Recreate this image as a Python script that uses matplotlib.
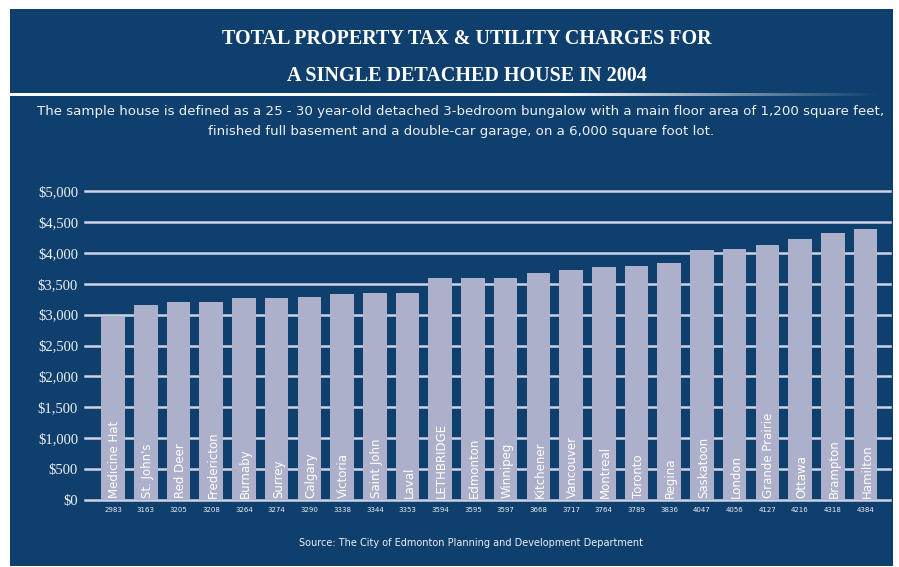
import matplotlib
matplotlib.use("Agg")
import matplotlib.pyplot as plt
from matplotlib.patches import Rectangle
import numpy as np

# data
cities = ["Medicine Hat", "St. John's", "Red Deer", "Fredericton", "Burnaby", "Surrey",
          "Calgary", "Victoria", "Saint John", "Laval", "LETHBRIDGE", "Edmonton",
          "Winnipeg", "Kitchener", "Vancouver", "Montreal", "Toronto", "Regina",
          "Saskatoon", "London", "Grande Prairie", "Ottawa", "Brampton", "Hamilton"]
charges = [2983, 3163, 3205, 3208, 3264, 3274, 3290, 3338, 3344, 3353, 3594, 3595,
           3597, 3668, 3717, 3764, 3789, 3836, 4047, 4056, 4127, 4216, 4318, 4384]
yticks = [0, 500, 1000, 1500, 2000, 2500, 3000, 3500, 4000, 4500, 5000]
ytick_labels = ["$0", "$500", "$1,000", "$1,500", "$2,000", "$2,500", "$3,000",
                "$3,500", "$4,000", "$4,500", "$5,000"]

title_lines = ["TOTAL PROPERTY TAX & UTILITY CHARGES FOR",
               "A SINGLE DETACHED HOUSE IN 2004"]
note_lines = ["The sample house is defined as a 25 - 30 year-old detached 3-bedroom bungalow "
              "with a main floor area of 1,200 square feet,",
              "finished full basement and a double-car garage, on a 6,000 square foot lot."]
source = "Source: The City of Edmonton Planning and Development Department"

NAVY = "#0f3f6d"
BAR = "#adb0cb"
GRID = "#cdd3e4"
TXT = "#eef0f6"
sans = ["DejaVu Sans"]
serif = ["Liberation Serif", "DejaVu Serif"]

W, H = 899, 567
fig = plt.figure(figsize=(W / 100, H / 100), dpi=100, facecolor="white")

def fx(px):
    return px / W

def fy(py):
    return 1 - py / H

# navy panel behind everything
bg = fig.add_axes([0, 0, 1, 1], zorder=-10)
bg.axis("off")
bg.add_patch(Rectangle((10, 9), 883, 557, facecolor=NAVY, edgecolor="none", zorder=0))

# separator line fading to the right (thin gradient strip)
fade = np.clip(1 - (np.linspace(10, 880, 400) - 560) / 320, 0, 1)
strip = np.ones((1, 400, 4))
strip[0, :, 3] = fade
bg.imshow(strip, extent=(10, 880, 96.3, 93.7), aspect="auto", interpolation="bilinear",
          zorder=2)
bg.set_xlim(0, W)
bg.set_ylim(H, 0)

# titles
for txt, y in zip(title_lines, [39, 76]):
    fig.text(fx(467), fy(y), txt, ha="center", va="center", color="white",
             family=serif, fontsize=14.5, fontweight="bold")

for txt, y in zip(note_lines, [112, 131]):
    fig.text(fx(461), fy(y), txt, ha="center", va="center", color=TXT,
             family=sans, fontsize=9.6)

ax = fig.add_axes([fx(85), fy(500), fx(890) - fx(85), (500 - 191) / H])
ax.set_facecolor("none")
x = np.arange(len(cities))
for yv in yticks:
    ax.axhline(yv, color=GRID, lw=1.8, zorder=1, clip_on=False)
ax.bar(x, charges, width=0.72, color=BAR, zorder=2)
ax.set_xlim(-0.86, len(cities) - 0.25)
ax.set_ylim(0, 5000)
for s in ax.spines.values():
    s.set_visible(False)
ax.set_xticks([])
ax.set_yticks(yticks)
ax.set_yticklabels(ytick_labels, color=TXT, family=serif, fontsize=10.5)
ax.tick_params(axis="y", length=0, pad=5)

for xi, name, val in zip(x, cities, charges):
    ax.text(xi + 0.05, 40, name, rotation=90, ha="center", va="bottom", color="white",
            family=sans, fontsize=8.5, zorder=3)
    ax.text(xi, -160, str(val), ha="center", va="center", color=TXT,
            family=sans, fontsize=5)

fig.text(fx(471), fy(543), source, ha="center", va="center", color=TXT,
         family=sans, fontsize=7)

fig.savefig("out.png", dpi=100, facecolor="white")
